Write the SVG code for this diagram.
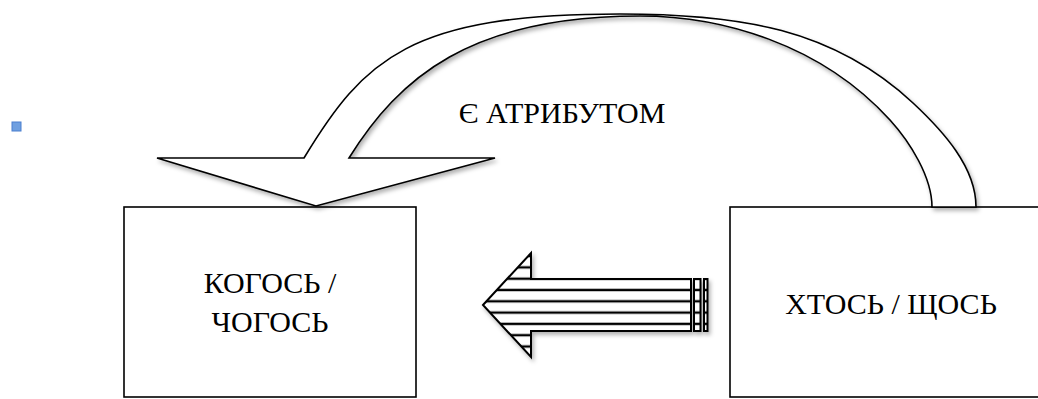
<svg xmlns="http://www.w3.org/2000/svg" width="1038" height="399" viewBox="0 0 1038 399">
<style>
.box{fill:#fff;stroke:#000;stroke-width:1.6}
.arr{fill:#fff;stroke:#000;stroke-width:1.6;stroke-linejoin:miter}
.str{fill:url(#stripes);stroke:#000;stroke-width:2}
.lbl{font-family:"Liberation Serif","Times New Roman",serif;font-size:30px;fill:#000;text-anchor:middle}
</style>
<defs>
<filter id="sh" x="-10%" y="-10%" width="130%" height="140%">
<feDropShadow dx="2" dy="3" stdDeviation="2" flood-color="#000" flood-opacity="0.3"/>
</filter>
<pattern id="stripes" patternUnits="userSpaceOnUse" x="0" y="0" width="10" height="11.3">
<rect x="0" y="0" width="10" height="11.3" fill="#fff"/>
<rect x="0" y="6.3" width="10" height="2.4" fill="#000"/>
</pattern>
</defs>
<rect x="12" y="122" width="9" height="9" fill="#6f9fe0" stroke="#4a7fcf" stroke-width="1"/>
<g id="node-left">
<rect class="box" x="124" y="207" width="292" height="190"/>
<text class="lbl" x="270" y="293">КОГОСЬ /</text>
<text class="lbl" x="270" y="332">ЧОГОСЬ</text>
</g>
<g id="node-right">
<rect class="box" x="730" y="207" width="330" height="190"/>
<text class="lbl" x="891" y="314">ХТОСЬ / ЩОСЬ</text>
</g>
<g id="connectors">
<g id="curved-arrow" filter="url(#sh)">
<path class="arr" d="M 157 158 L 304 158 C 364 59 410 14 620 14 C 740 14 833 28.6 913 103 C 943 131 976 167 976 207 L 932 207 C 932 177 910 142 890 120 C 820 43 720 16 640 16 C 470 16 399 78 349 158 L 495 158 L 316 206 Z"/>
</g>
<text class="lbl" x="562" y="123">Є АТРИБУТОМ</text>
<g id="striped-arrow" filter="url(#sh)">
<path class="str" d="M 483 305 L 531 253 L 531 279 L 691 279 L 691 331 L 531 331 L 531 357 Z"/>
<rect class="str" x="694" y="279" width="6.5" height="52"/>
<rect class="str" x="704" y="279" width="3.5" height="52"/>
</g>
</g>
</svg>
